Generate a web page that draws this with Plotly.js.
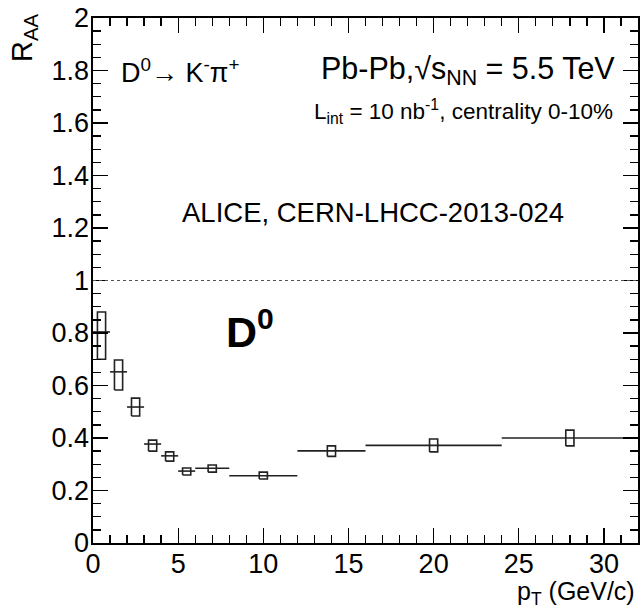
<!DOCTYPE html>
<html>
<head>
<meta charset="utf-8">
<script src="https://cdn.plot.ly/plotly-3.0.1.min.js"></script>
<style>html,body{margin:0;padding:0;background:#fff;}#chart{width:640px;height:610px;}</style>
</head>
<body>
<div id="chart"></div>
<script>
// pT bins (GeV/c)
const ptCenter = [0.5, 1.5, 2.5, 3.5, 4.5, 5.5, 7, 10, 14, 20, 28];
const ptHalfWidth = [0.5, 0.5, 0.5, 0.5, 0.5, 0.5, 1, 2, 2, 4, 4];
// R_AA central values
const raa = [0.804, 0.652, 0.518, 0.377, 0.332, 0.274, 0.285, 0.256, 0.351, 0.372, 0.400];
// systematic uncertainty band (low / high)
const systLow = [0.700, 0.583, 0.484, 0.350, 0.312, 0.259, 0.270, 0.244, 0.330, 0.347, 0.370];
const systHigh = [0.880, 0.697, 0.552, 0.392, 0.347, 0.286, 0.297, 0.270, 0.370, 0.396, 0.430];
const boxHalfWidth = 0.24;
const yTicks = [0, 0.2, 0.4, 0.6, 0.8, 1, 1.2, 1.4, 1.6, 1.8, 2];
const xTicks = [0, 5, 10, 15, 20, 25, 30];

// build systematic boxes as closed paths
const bx = [], by = [];
for (let i = 0; i < ptCenter.length; i++) {
  const x0 = ptCenter[i] - boxHalfWidth, x1 = ptCenter[i] + boxHalfWidth;
  bx.push(x0, x1, x1, x0, x0, null);
  by.push(systLow[i], systLow[i], systHigh[i], systHigh[i], systLow[i], null);
}

const font = "Liberation Sans, Arial, Helvetica, sans-serif";

const data = [
  {
    x: bx, y: by, type: 'scatter', mode: 'lines',
    line: {color: '#222', width: 1.6}, hoverinfo: 'skip', showlegend: false
  },
  {
    x: ptCenter, y: raa, type: 'scatter', mode: 'markers',
    marker: {size: 1, color: 'rgba(0,0,0,0)'},
    error_x: {type: 'data', array: ptHalfWidth, visible: true, color: '#222', thickness: 1.6, width: 0},
    showlegend: false
  }
];

const layout = {
  width: 640, height: 610,
  margin: {l: 93, r: 2, t: 18, b: 67},
  paper_bgcolor: '#fff', plot_bgcolor: '#fff',
  font: {family: font, color: '#000', size: 27},
  showlegend: false,
  xaxis: {
    range: [0, 32], tickvals: xTicks, ticktext: xTicks.map(String),
    ticks: 'inside', ticklen: 15, tickwidth: 1.3, tickcolor: '#000',
    minor: {dtick: 1, tick0: 0, ticks: 'inside', ticklen: 8, tickwidth: 1.3, tickcolor: '#000', showgrid: false},
    showline: true, linecolor: '#000', linewidth: 1.6, mirror: 'allticks',
    showgrid: false, zeroline: false, ticklabelstandoff: -4,
    tickfont: {size: 27, family: font}
  },
  yaxis: {
    range: [0, 2], tickvals: yTicks, ticktext: yTicks.map(String),
    ticks: 'inside', ticklen: 15, tickwidth: 1.3, tickcolor: '#000',
    minor: {dtick: 0.05, tick0: 0, ticks: 'inside', ticklen: 8, tickwidth: 1.3, tickcolor: '#000', showgrid: false},
    showline: true, linecolor: '#000', linewidth: 1.6, mirror: 'allticks',
    showgrid: false, zeroline: false, ticklabelstandoff: -3,
    tickfont: {size: 27, family: font}
  },
  shapes: [
    {type: 'line', xref: 'paper', yref: 'y', x0: 0, x1: 1, y0: 1, y1: 1,
     line: {color: '#555', width: 1, dash: 'dot'}}
  ],
  annotations: [
    {text: 'R<sub>AA</sub>', xref: 'paper', yref: 'paper', x: -0.128, y: 1.012,
     xanchor: 'center', yanchor: 'top',
     textangle: -90, showarrow: false, font: {size: 29, family: font}},
    {text: 'p<sub>T</sub> (GeV/c)', xref: 'paper', yref: 'paper', x: 0.9975, y: -0.095,
     xanchor: 'right', yanchor: 'middle', showarrow: false, font: {size: 25, family: font}},
    {text: 'D<sup>0</sup>→ K<sup>-</sup>π<sup>+</sup>', xref: 'x', yref: 'y', x: 1.5, y: 1.80,
     xanchor: 'left', yanchor: 'middle', showarrow: false, font: {size: 27, family: font}},
    {text: 'Pb-Pb,√s<sub>NN</sub> = 5.5 TeV', xref: 'x', yref: 'y', x: 30.75, y: 1.80,
     xanchor: 'right', yanchor: 'middle', showarrow: false, font: {size: 30.5, family: font}},
    {text: 'L<sub>int</sub> = 10 nb<sup>-1</sup>, centrality 0-10%', xref: 'x', yref: 'y', x: 30.65, y: 1.642,
     xanchor: 'right', yanchor: 'middle', showarrow: false, font: {size: 22.5, family: font}},
    {text: 'ALICE, CERN-LHCC-2013-024', xref: 'x', yref: 'y', x: 16.45, y: 1.258,
     xanchor: 'center', yanchor: 'middle', showarrow: false, font: {size: 27.5, family: font}},
    {text: '<b>D<sup>0</sup></b>', xref: 'x', yref: 'y', x: 7.7, y: 0.815,
     xanchor: 'left', yanchor: 'middle', showarrow: false, font: {size: 43, family: font}}
  ]
};

Plotly.newPlot('chart', data, layout, {displayModeBar: false, staticPlot: true});
</script>
</body>
</html>
